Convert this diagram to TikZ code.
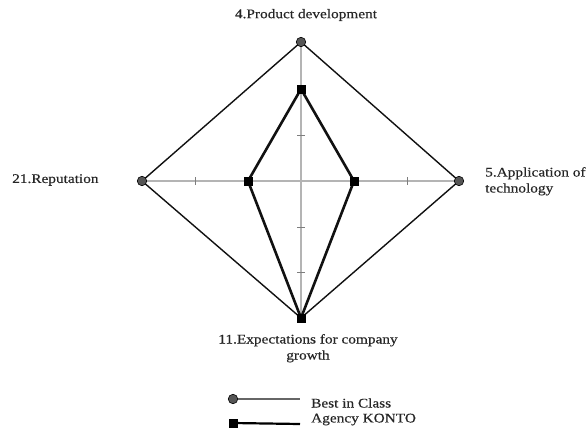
\documentclass[tikz,border=0pt]{standalone}
\usepackage{fontspec}
\setmainfont{Liberation Serif}[FakeStretch=1.16, FakeBold=0.4]
\usepackage{tikz}
\usetikzlibrary{positioning}
\definecolor{cAxis}{HTML}{B4B4B4}
\definecolor{cDot}{HTML}{555555}
\definecolor{cLine}{HTML}{111111}
\tikzset{
  axisline/.style={draw=cAxis, line width=1.4pt},
  tick/.style={draw=cAxis!70!black, line width=0.9pt},
  bestline/.style={draw=cLine, line width=1.4pt, line join=round},
  agencyline/.style={draw=cLine, line width=2.6pt, line join=round},
  bestdot/.style={circle, draw=black, fill=cDot, line width=0.6pt,
    inner sep=0pt, minimum size=9.5pt},
  agencydot/.style={rectangle, fill=black, inner sep=0pt, minimum size=9pt},
  lbl/.style={font=\fontsize{13.2}{16}\selectfont, text=black!85, inner sep=0pt},
}
\begin{document}
\begin{tikzpicture}[x=1pt, y=-1pt]
  \useasboundingbox (0,0) rectangle (588,428);

  % Axes
  \coordinate (c) at (301,181);
  \coordinate (top) at (301,42);
  \coordinate (bot) at (301,318);
  \coordinate (lft) at (142,181);
  \coordinate (rgt) at (459,181);
  \draw[axisline] (top) -- (bot);
  \draw[axisline] (lft) -- (rgt);
  \foreach \ty in {135,89,227,272}
    \draw[tick] (297,\ty) -- (305,\ty);
  \foreach \tx in {195,248,354,407}
    \draw[tick] (\tx,177) -- (\tx,185);

  % Best in Class
  \coordinate (b4) at (top);
  \coordinate (b5) at (rgt);
  \coordinate (b11) at (bot);
  \coordinate (b21) at (lft);
  \draw[bestline] (b4) -- (b5) -- (b11) -- (b21) -- cycle;

  % Agency KONTO
  \coordinate (a4) at (301,89);
  \coordinate (a5) at (354,181);
  \coordinate (a11) at (bot);
  \coordinate (a21) at (248,181);
  \draw[agencyline] (a4) -- (a5) -- (a11) -- (a21) -- cycle;

  % Markers
  \node[bestdot] (m4) at (b4) {};
  \node[bestdot] (m5) at (b5) {};
  \node[bestdot] (m21) at (b21) {};
  \node[agencydot] (n4) at (a4) {};
  \node[agencydot] (n5) at (a5) {};
  \node[agencydot] (n11) at (a11) {};
  \node[agencydot] (n21) at (a21) {};

  % Labels
  \node[lbl] (l4) at (306,15) {4.Product development};
  \node[lbl, anchor=west] (l21) at (12,180) {21.Reputation};
  \node[lbl, anchor=north west, align=left] (l5) at (485,167)
    {5.Application of\\technology};
  \node[lbl, anchor=north, align=center] (l11) at (308,334)
    {11.Expectations for company\\growth};

  % Legend
  \node[bestdot] (kb) at (233,399) {};
  \coordinate (kbe) at (300,399);
  \draw[draw=black!60, line width=1.4pt] (kb) -- (kbe);
  \node[lbl, anchor=west] (tb) at (311,403) {Best in Class};
  \node[agencydot] (ka) at (233,423) {};
  \coordinate (kae) at (300,424);
  \draw[draw=black, line width=2.2pt] (ka) -- (kae);
  \node[lbl, anchor=west] (ta) at (311,419.5) {Agency KONTO};
\end{tikzpicture}
\end{document}
